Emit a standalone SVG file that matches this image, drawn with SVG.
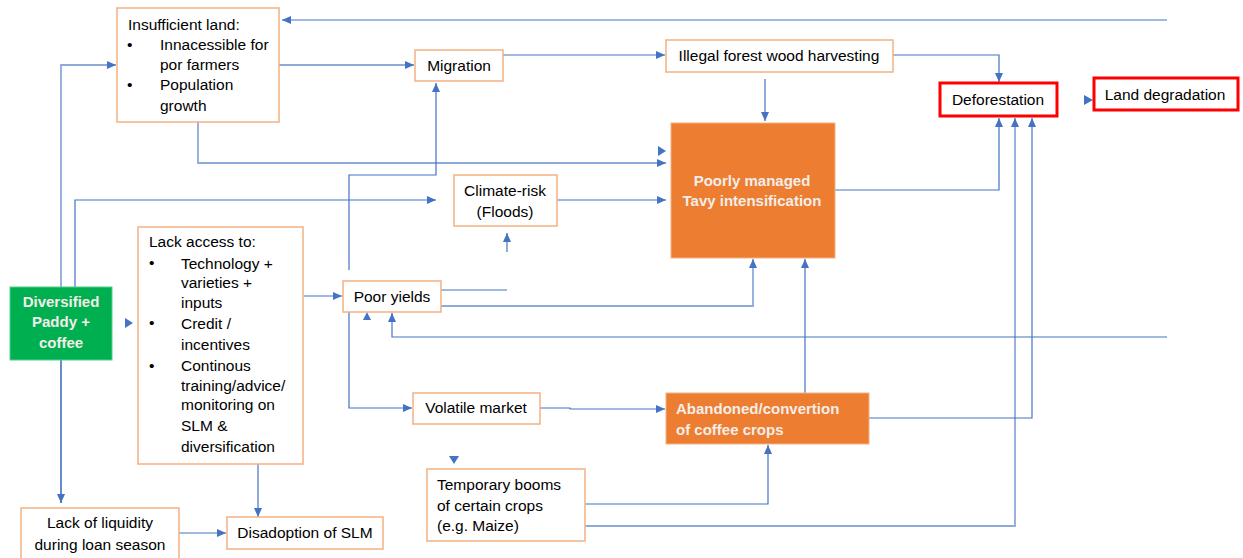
<svg xmlns="http://www.w3.org/2000/svg" width="1243" height="558" viewBox="0 0 1243 558">
<style>
text{font-family:"Liberation Sans",Arial,sans-serif;font-size:15.5px;fill:#000}
.c{text-anchor:middle}
.w{fill:#f3eee9;font-weight:bold;font-size:15px}
.box{fill:#fff;stroke:#f4b183;stroke-width:1.5}
.fill{fill:#ed7d31;stroke:#f4b183;stroke-width:1}
.red{fill:#fff;stroke:#ff0000;stroke-width:3}
.ln{fill:none;stroke:#4472c4;stroke-width:1.2}
.lt{fill:none;stroke:#8eaadb;stroke-width:1.8}
.ah{fill:#4472c4}
</style>
<defs>
<marker id="a" markerUnits="userSpaceOnUse" markerWidth="9" markerHeight="8" refX="9" refY="4" orient="auto"><path d="M0,0 L9,4 L0,8 z" fill="#4472c4"/></marker>
</defs>
<rect width="1243" height="558" fill="#fff"/>
<g id="connectors">
<path class="ln" d="M1167,20 H282" marker-end="url(#a)"/>
<path class="lt" d="M61,503 V65 H116" marker-end="url(#a)"/>
<path class="ln" d="M61,360 V503" marker-end="url(#a)"/>
<path class="lt" d="M279,65 H414" marker-end="url(#a)"/>
<path class="lt" d="M198,122 V163 H666" marker-end="url(#a)"/>
<polygon class="ah" points="658,146 666,151 658,156"/>
<path class="ln" d="M75,287 V200 H436" marker-end="url(#a)"/>
<path class="ln" d="M349,270 V175 H436 V83" marker-end="url(#a)"/>
<path class="ln" d="M503,55 H665" marker-end="url(#a)"/>
<path class="ln" d="M893,55 H999 V82" marker-end="url(#a)"/>
<path class="ln" d="M765,79 V121" marker-end="url(#a)"/>
<path class="ln" d="M835,190 H999 V118" marker-end="url(#a)"/>
<polygon class="ah" points="1084,95 1093,100 1084,105"/>
<path class="lt" d="M585,526 H1015 V118" marker-end="url(#a)"/>
<path class="ln" d="M869,418 H1032 V118" marker-end="url(#a)"/>
<path class="ln" d="M1167,337 H392 V313" marker-end="url(#a)"/>
<polygon class="ah" points="363,320 367,312 371,320"/>
<path class="ln" d="M557,200 H666" marker-end="url(#a)"/>
<path class="ln" d="M507,252 V233" marker-end="url(#a)"/>
<path class="ln" d="M441,290 H507"/>
<path class="lt" d="M441,306 H753 V259" marker-end="url(#a)"/>
<path class="ln" d="M304,296 H342" marker-end="url(#a)"/>
<polygon class="ah" points="125,318 133,323 125,328"/>
<path class="ln" d="M258,464 V517" marker-end="url(#a)"/>
<path class="ln" d="M179,533 H226" marker-end="url(#a)"/>
<path class="ln" d="M349,312 V408 H412" marker-end="url(#a)"/>
<path class="ln" d="M540,408 H570 V409 H665" marker-end="url(#a)"/>
<path class="ln" d="M805,393 V259" marker-end="url(#a)"/>
<polygon class="ah" points="449,456 459,456 454,464"/>
<path class="ln" d="M585,504 H768 V445" marker-end="url(#a)"/>
</g>
<g id="insufficient-land">
<rect class="box" x="117" y="8" width="162" height="114"/>
<text x="128" y="30">Insufficient land:</text>
<text x="127" y="50">•</text><text x="160" y="50">Innacessible for</text>
<text x="160" y="70">por farmers</text>
<text x="127" y="90">•</text><text x="160" y="90">Population</text>
<text x="160" y="111">growth</text>
</g>
<g id="migration">
<rect class="box" x="415" y="50" width="88" height="31"/>
<text class="c" x="459" y="71">Migration</text>
</g>
<g id="illegal-harvesting">
<rect class="box" x="666" y="40" width="227" height="32"/>
<text class="c" x="779" y="61">Illegal forest wood harvesting</text>
</g>
<g id="deforestation">
<rect class="red" x="940" y="83" width="117" height="33"/>
<text class="c" x="998" y="105">Deforestation</text>
</g>
<g id="land-degradation">
<rect class="red" x="1094" y="78" width="144" height="32"/>
<text class="c" x="1165" y="100">Land degradation</text>
</g>
<g id="poorly-managed">
<rect class="fill" x="671" y="123" width="164" height="135"/>
<text class="c w" x="752" y="186">Poorly managed</text>
<text class="c w" x="752" y="206">Tavy intensification</text>
</g>
<g id="climate-risk">
<rect class="box" x="454" y="175" width="103" height="51"/>
<text class="c" x="505" y="196">Climate-risk</text>
<text class="c" x="505" y="217">(Floods)</text>
</g>
<g id="poor-yields">
<rect class="box" x="343" y="281" width="98" height="31"/>
<text class="c" x="392" y="302">Poor yields</text>
</g>
<g id="lack-access">
<rect class="box" x="138" y="227" width="165" height="237"/>
<text x="149" y="247">Lack access to:</text>
<text x="149" y="268">•</text><text x="181" y="269">Technology +</text>
<text x="181" y="288">varieties +</text>
<text x="181" y="308">inputs</text>
<text x="149" y="328">•</text><text x="181" y="329">Credit /</text>
<text x="181" y="350">incentives</text>
<text x="149" y="371">•</text><text x="181" y="371">Continous</text>
<text x="181" y="391">training/advice/</text>
<text x="181" y="410">monitoring on</text>
<text x="181" y="431">SLM &amp;</text>
<text x="181" y="452">diversification</text>
</g>
<g id="diversified">
<rect x="10" y="287" width="102" height="73" fill="#00b050" stroke="#4fd08a" stroke-width="1"/>
<text class="c w" x="61" y="307">Diversified</text>
<text class="c w" x="61" y="327">Paddy +</text>
<text class="c w" x="61" y="348">coffee</text>
</g>
<g id="lack-liquidity">
<rect class="box" x="21" y="508" width="158" height="56"/>
<text class="c" x="100" y="528">Lack of liquidity</text>
<text class="c" x="100" y="550">during loan season</text>
</g>
<g id="disadoption">
<rect class="box" x="227" y="517" width="156" height="32"/>
<text class="c" x="305" y="538">Disadoption of SLM</text>
</g>
<g id="volatile-market">
<rect class="box" x="413" y="393" width="127" height="31"/>
<text class="c" x="476" y="413">Volatile market</text>
</g>
<g id="abandoned">
<rect class="fill" x="666" y="393" width="203" height="51"/>
<text class="w" x="676" y="414">Abandoned/convertion</text>
<text class="w" x="676" y="435">of coffee crops</text>
</g>
<g id="temporary-booms">
<rect class="box" x="427" y="469" width="158" height="72"/>
<text x="437" y="490">Temporary booms</text>
<text x="437" y="511">of certain crops</text>
<text x="437" y="531">(e.g. Maize)</text>
</g>
</svg>
